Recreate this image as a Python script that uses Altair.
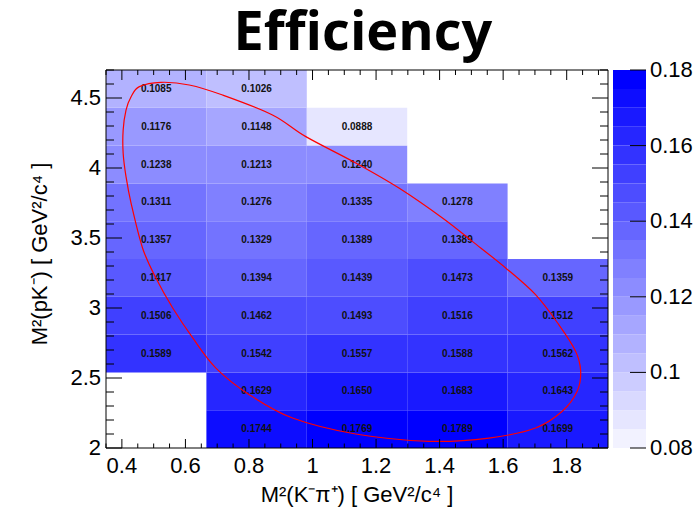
import altair as alt
import pandas as pd

# ---- data ----
x_edges = [0.35, 0.666, 0.982, 1.298, 1.614, 1.93]
y_edges = [2.00, 2.27, 2.54, 2.81, 3.08, 3.35, 3.62, 3.89, 4.16, 4.43, 4.70]

# efficiency per row (bottom row first), None = empty bin
row_0 = [None, 0.1744, 0.1769, 0.1789, 0.1699]
row_1 = [None, 0.1629, 0.1650, 0.1683, 0.1643]
row_2 = [0.1589, 0.1542, 0.1557, 0.1588, 0.1562]
row_3 = [0.1506, 0.1462, 0.1493, 0.1516, 0.1512]
row_4 = [0.1417, 0.1394, 0.1439, 0.1473, 0.1359]
row_5 = [0.1357, 0.1329, 0.1389, 0.1389, None]
row_6 = [0.1311, 0.1276, 0.1335, 0.1278, None]
row_7 = [0.1238, 0.1213, 0.1240, None, None]
row_8 = [0.1176, 0.1148, 0.0888, None, None]
row_9 = [0.1085, 0.1026, None, None, None]
rows = [row_0, row_1, row_2, row_3, row_4, row_5, row_6, row_7, row_8, row_9]

# red contour (clockwise from the top)
ell_x = [0.523, 0.612, 0.717, 0.874, 0.979, 1.136, 1.272, 1.409, 1.503, 1.608,
         1.702, 1.775, 1.828, 1.844, 1.833, 1.786, 1.702, 1.555, 1.367, 1.136,
         0.937, 0.801, 0.696, 0.623, 0.560, 0.507, 0.465, 0.429, 0.413, 0.404,
         0.404, 0.413, 0.429, 0.455]
ell_y = [4.612, 4.593, 4.521, 4.379, 4.224, 4.036, 3.857, 3.643, 3.476, 3.286,
         3.095, 2.881, 2.691, 2.548, 2.405, 2.262, 2.143, 2.071, 2.048, 2.100,
         2.214, 2.381, 2.571, 2.786, 3.000, 3.214, 3.429, 3.748, 3.938, 4.105,
         4.271, 4.414, 4.509, 4.581]

# colour levels of the palette
levels = [0.080, 0.085, 0.090, 0.095, 0.100, 0.105, 0.110, 0.115, 0.120, 0.125,
          0.130, 0.135, 0.140, 0.145, 0.150, 0.155, 0.160, 0.165, 0.170, 0.175, 0.180]

x_major = [0.4, 0.6, 0.8, 1.0, 1.2, 1.4, 1.6, 1.8]
x_minor = [0.35, 0.45, 0.50, 0.55, 0.65, 0.70, 0.75, 0.85, 0.90, 0.95, 1.05, 1.10,
           1.15, 1.25, 1.30, 1.35, 1.45, 1.50, 1.55, 1.65, 1.70, 1.75, 1.85, 1.90]
y_major = [2.0, 2.5, 3.0, 3.5, 4.0, 4.5]
y_minor = [2.1, 2.2, 2.3, 2.4, 2.6, 2.7, 2.8, 2.9, 3.1, 3.2, 3.3, 3.4,
           3.6, 3.7, 3.8, 3.9, 4.1, 4.2, 4.3, 4.4, 4.6, 4.7]
z_major = [0.08, 0.10, 0.12, 0.14, 0.16, 0.18]

title_text = "Efficiency"
x_title = "M²(K⁻π⁺) [ GeV²/c⁴ ]"
y_title = "M²(pK⁻) [ GeV²/c⁴ ]"

W, H, CBW = 502, 378, 33
XLO, XHI = x_edges[0], x_edges[-1]
YLO, YHI = y_edges[0], y_edges[-1]
PX = (XHI - XLO) / W   # data units per pixel, x
PY = (YHI - YLO) / H   # data units per pixel, y

# ---- tables ----
recs = []
for j, row in enumerate(rows):
    for i, v in enumerate(row):
        if v is None:
            continue
        recs.append({
            "x0": x_edges[i], "x1": x_edges[i + 1],
            "y0": y_edges[j], "y1": y_edges[j + 1],
            "xc": (x_edges[i] + x_edges[i + 1]) / 2,
            "yc": (y_edges[j] + y_edges[j + 1]) / 2,
            "eff": v,
        })
cells = pd.DataFrame(recs)
ell = pd.DataFrame({"ex": ell_x, "ey": ell_y, "k": list(range(len(ell_x)))})
bands = pd.DataFrame({"lo": levels[:-1], "hi": levels[1:]})
bands["mid"] = (bands["lo"] + bands["hi"]) / 2

# inward tick segments (vertical ones on the x axes, horizontal on the y axes)
vseg = []
for v in x_major:
    vseg.append({"v": v, "a": YLO, "b": YLO + 9 * PY})
    vseg.append({"v": v, "a": YHI, "b": YHI - 10 * PY})
for v in x_minor:
    vseg.append({"v": v, "a": YLO, "b": YLO + 4.5 * PY})
    vseg.append({"v": v, "a": YHI, "b": YHI - 5 * PY})
hseg = []
for v in y_major:
    hseg.append({"v": v, "a": XLO, "b": XLO + 16 * PX})
    hseg.append({"v": v, "a": XHI, "b": XHI - 16 * PX})
for v in y_minor:
    hseg.append({"v": v, "a": XLO, "b": XLO + 8 * PX})
    hseg.append({"v": v, "a": XHI, "b": XHI - 8 * PX})
vseg = pd.DataFrame(vseg)
hseg = pd.DataFrame(hseg)
box = pd.DataFrame({"x0": [XLO], "x1": [XHI], "y0": [YLO], "y1": [YHI]})

n = len(levels) - 1
palette = []
for k in range(n):
    t = (k + 1) / n
    c = int(round(255 * (1 - t)))
    palette.append(f"#{c:02x}{c:02x}ff")
cscale = alt.Scale(type="threshold", domain=levels[1:-1], range=palette)

FONT = "Liberation Sans"
xs = alt.Scale(domain=[XLO, XHI], nice=False, zero=False)
ys = alt.Scale(domain=[YLO, YHI], nice=False, zero=False)
zs = alt.Scale(domain=[0.08, 0.18], nice=False, zero=False)

rects = alt.Chart(cells).mark_rect().encode(
    x=alt.X("x0:Q", scale=xs, axis=None),
    x2="x1:Q",
    y=alt.Y("y0:Q", scale=ys, axis=None),
    y2="y1:Q",
    color=alt.Color("eff:Q", scale=cscale, legend=None),
)

texts = alt.Chart(cells).mark_text(
    font=FONT, fontSize=10, fontWeight="bold", color="#111111"
).encode(
    x=alt.X("xc:Q", scale=xs, axis=None),
    y=alt.Y("yc:Q", scale=ys, axis=None),
    text=alt.Text("eff:Q", format=".4f"),
)

ellipse = alt.Chart(ell).mark_line(
    color="#ff0000", strokeWidth=1.2, interpolate="cardinal-closed"
).encode(
    x=alt.X("ex:Q", scale=xs, axis=None),
    y=alt.Y("ey:Q", scale=ys, axis=None),
    order="k:Q",
)

vticks = alt.Chart(vseg).mark_rule(color="black", strokeWidth=1).encode(
    x=alt.X("v:Q", scale=xs, axis=None),
    y=alt.Y("a:Q", scale=ys, axis=None),
    y2="b:Q",
)
hticks = alt.Chart(hseg).mark_rule(color="black", strokeWidth=1).encode(
    y=alt.Y("v:Q", scale=ys, axis=None),
    x=alt.X("a:Q", scale=xs, axis=None),
    x2="b:Q",
)
frame = alt.Chart(box).mark_rect(
    fill="transparent", stroke="black", strokeWidth=1
).encode(
    x=alt.X("x0:Q", scale=xs, axis=None), x2="x1:Q",
    y=alt.Y("y0:Q", scale=ys, axis=None), y2="y1:Q",
)

# tick labels and axis titles as text marks
x_labels = alt.Chart(pd.DataFrame({"v": x_major})).mark_text(
    font=FONT, fontSize=22, color="black", align="center", baseline="top"
).encode(x=alt.X("v:Q", scale=xs, axis=None), y=alt.value(H + 8),
         text=alt.Text("v:Q", format="~g"))

y_labels = alt.Chart(pd.DataFrame({"v": y_major})).mark_text(
    font=FONT, fontSize=22, color="black", align="right", baseline="middle"
).encode(y=alt.Y("v:Q", scale=ys, axis=None), x=alt.value(-5),
         text=alt.Text("v:Q", format="~g"))

x_title_mark = alt.Chart(pd.DataFrame({"t": [x_title]})).mark_text(
    font=FONT, fontSize=22, color="black", align="center", baseline="middle"
).encode(x=alt.value(W / 2), y=alt.value(H + 47), text="t:N")

y_title_mark = alt.Chart(pd.DataFrame({"t": [y_title]})).mark_text(
    font=FONT, fontSize=22, color="black", align="center", baseline="middle",
    angle=270
).encode(x=alt.value(-66), y=alt.value(H / 2 - 5), text="t:N")

main = alt.layer(
    rects, texts, ellipse, vticks, hticks, frame,
    x_labels, y_labels, x_title_mark, y_title_mark,
).properties(width=W, height=H)

cb_rects = alt.Chart(bands).mark_rect().encode(
    x=alt.value(0),
    x2=alt.value(CBW),
    y=alt.Y("lo:Q", scale=zs, axis=None),
    y2="hi:Q",
    color=alt.Color("mid:Q", scale=cscale, legend=None),
)
cb_ticks = alt.Chart(pd.DataFrame({"v": z_major})).mark_rule(
    color="black", strokeWidth=1
).encode(y=alt.Y("v:Q", scale=zs, axis=None),
         x=alt.value(CBW), x2=alt.value(CBW - 16))
cb_labels = alt.Chart(pd.DataFrame({"v": z_major})).mark_text(
    font=FONT, fontSize=22, color="black", align="left", baseline="middle"
).encode(y=alt.Y("v:Q", scale=zs, axis=None), x=alt.value(CBW + 4),
         text=alt.Text("v:Q", format=".2~f"))

colorbar = alt.layer(cb_rects, cb_ticks, cb_labels).properties(width=CBW, height=H)

chart = alt.hconcat(main, colorbar, spacing=3).properties(
    title=alt.TitleParams(title_text, font="Open Sans", fontSize=54,
                          fontWeight="bold", color="black", anchor="middle",
                          offset=-2, dx=2),
    padding={"left": 28, "top": 6, "right": 2, "bottom": 5},
).configure_view(stroke="transparent")

chart.save("out.html", embed_options={"renderer": "svg", "actions": False})
